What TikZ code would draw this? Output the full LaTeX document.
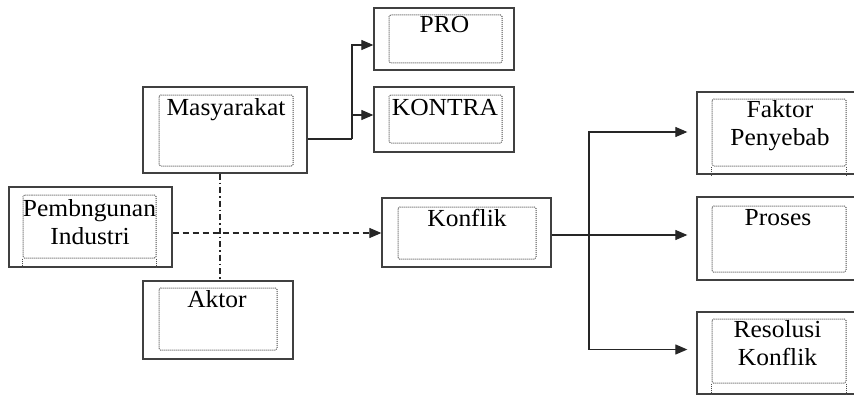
\documentclass[tikz,border=0pt]{standalone}
\usepackage{fontspec}
\setmainfont{Liberation Serif}[FakeStretch=1.04]
\usetikzlibrary{arrows.meta}
\tikzset{
  outerbox/.style={draw=black!75, line width=1.3pt, rectangle, inner sep=0pt},
  innerbox/.style={draw=black!70, densely dotted, line width=1pt, rectangle, rounded corners=1.5pt, inner sep=0pt},
  lbl/.style={inner sep=0pt, anchor=base, font=\fontsize{24.5}{28}\selectfont, text=black},
  conn/.style={draw=black!85, line width=1.1pt},
  arr/.style={conn, -{Triangle[length=12pt,width=10pt]}},
  dotside/.style={draw=black!70, densely dotted, line width=1pt},
}
\begin{document}
\begin{tikzpicture}[x=1pt,y=-1pt]
\clip (0,0) rectangle (854,396);
\fill[white] (0,0) rectangle (854,396);
% outer boxes
\node[outerbox, minimum width=164pt, minimum height=86pt] (mas) at (225,130) {};
\node[outerbox, minimum width=163pt, minimum height=80pt] (pem) at (90.5,227) {};
\node[outerbox, minimum width=150pt, minimum height=78pt] (akt) at (218,320) {};
\node[outerbox, minimum width=140pt, minimum height=62pt] (pro) at (444,39) {};
\node[outerbox, minimum width=140pt, minimum height=65pt] (kontra) at (444,119.5) {};
\node[outerbox, minimum width=169pt, minimum height=69pt] (kon) at (466.5,232.5) {};
\node[outerbox, minimum width=173pt, minimum height=82pt] (fak) at (783.5,133) {};
\node[outerbox, minimum width=173pt, minimum height=83pt] (pros) at (783.5,238.5) {};
\node[outerbox, minimum width=173pt, minimum height=82pt] (res) at (783.5,353) {};
% inner dotted boxes
\node[innerbox, minimum width=134pt, minimum height=71pt] (imas) at (226,130.5) {};
\node[innerbox, minimum width=133pt, minimum height=63pt] (ipem) at (89.5,226.5) {};
\node[innerbox, minimum width=118pt, minimum height=62pt] (iakt) at (218,319) {};
\node[innerbox, minimum width=113pt, minimum height=48pt] (ipro) at (445.5,39) {};
\node[innerbox, minimum width=113pt, minimum height=48pt] (ikontra) at (445.5,119) {};
\node[innerbox, minimum width=138pt, minimum height=52pt] (ikon) at (467,233) {};
\node[innerbox, minimum width=134pt, minimum height=67pt] (ifak) at (779,132.5) {};
\node[innerbox, minimum width=134pt, minimum height=66pt] (ipros) at (779,239) {};
\node[innerbox, minimum width=134pt, minimum height=64pt] (ires) at (779,351) {};
% overflowing sides of dotted boxes
\draw[dotside] (ipem.south west) -- (ipem.south west |- pem.south);
\draw[dotside] (ipem.south east) -- (ipem.south east |- pem.south);
\draw[dotside] (ifak.south west) -- (ifak.south west |- fak.south);
\draw[dotside] (ifak.south east) -- (ifak.south east |- fak.south);
\draw[dotside] (ires.south west) -- (ires.south west |- res.south);
\draw[dotside] (ires.south east) -- (ires.south east |- res.south);
% labels
\node[lbl] (tmas) at (226,115) {Masyarakat};
\node[lbl] (tpem1) at (89.5,216.5) {Pembngunan};
\node[lbl] (tpem2) at (90,244) {Industri};
\node[lbl] (takt) at (217,307) {Aktor};
\node[lbl] (tpro) at (444.5,33) {PRO};
\node[lbl] (tkontra) at (445,115) {KONTRA};
\node[lbl] (tkon) at (467,226) {Konflik};
\node[lbl] (tfak1) at (780,117) {Faktor};
\node[lbl] (tfak2) at (780,145) {Penyebab};
\node[lbl] (tpros) at (778,225) {Proses};
\node[lbl] (tres1) at (777.5,337) {Resolusi};
\node[lbl] (tres2) at (777.5,365) {Konflik};
% helper coordinates
\coordinate (ym) at (0,139);
\coordinate (jm) at (352,139);
\coordinate (ypro) at (0,45);
\coordinate (ykontra) at (0,115);
\coordinate (yd) at (0,233);
\coordinate (xd) at (220,0);
\coordinate (yk) at (0,235);
\coordinate (jk) at (589,235);
\coordinate (yfak) at (0,132);
\coordinate (yres) at (0,349.5);
% connectors
\draw[conn] (mas.east |- ym) -- (jm);
\draw[arr] (jm) |- (pro.west |- ypro);
\draw[arr] (jm) |- (kontra.west |- ykontra);
\draw[arr, dash pattern=on 6pt off 4pt] (pem.east |- yd) -- (kon.west |- yd);
\draw[conn, dash pattern=on 6pt off 3pt on 1.5pt off 3pt] (xd |- mas.south) -- (xd |- akt.north);
\draw[conn] (kon.east |- yk) -- (jk);
\draw[arr, shorten >=9pt] (jk) |- (fak.west |- yfak);
\draw[arr, shorten >=9pt] (jk) -- (pros.west |- yk);
\draw[arr, shorten >=9pt] (jk) |- (res.west |- yres);
\end{tikzpicture}
\end{document}
